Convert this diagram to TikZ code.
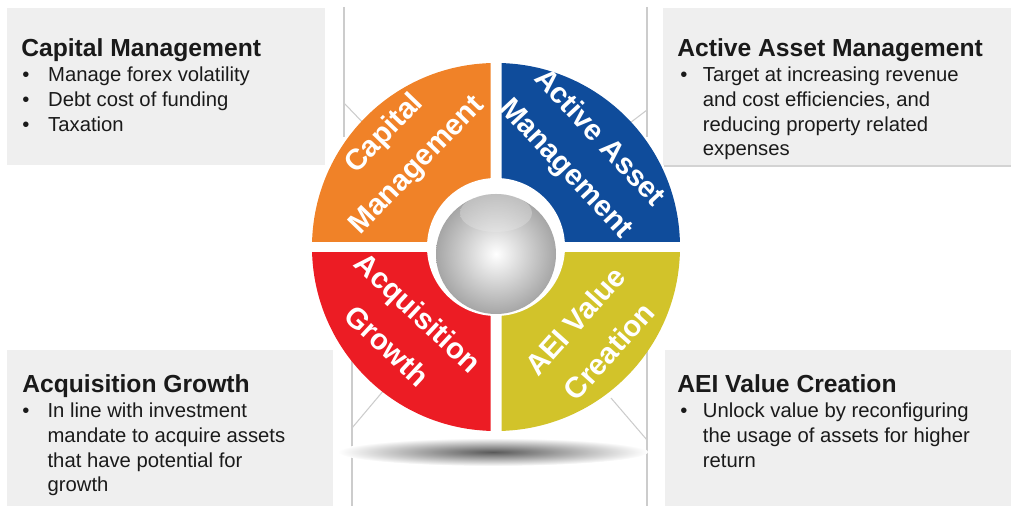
\documentclass[tikz,border=0pt]{standalone}
\usepackage{fontspec}
\setmainfont{Liberation Sans}
\usetikzlibrary{shadows}

\definecolor{caporange}{HTML}{F08228}
\definecolor{assetblue}{HTML}{0F4C9B}
\definecolor{acqred}{HTML}{EC1C24}
\definecolor{aeiyellow}{HTML}{D2C32A}
\definecolor{boxgray}{HTML}{EFEFEF}
\definecolor{textdark}{HTML}{1A1A1A}

\begin{document}
\begin{tikzpicture}[x=0.75pt, y=0.75pt,
    box/.style={fill=boxgray},
    frame/.style={draw=black!20, line width=0.8pt},
    title/.style={anchor=base west, inner sep=0, text=textdark, font=\fontsize{18.5}{22}\selectfont\bfseries},
    body/.style={anchor=base west, inner sep=0, text=textdark, font=\fontsize{15.2}{18.5}\selectfont},
    wheeltext/.style={text=white, align=center, inner sep=0, font=\fontsize{22}{34}\selectfont\bfseries}]
    \useasboundingbox (0,0) rectangle (1011,506);

    % Draw the four text panels
    \path[box] (7,341) rectangle (325,498);
    \path[box, drop shadow={shadow xshift=1pt, shadow yshift=-1.5pt, opacity=.35}] (663,341) rectangle (1011,498);
    \path[box] (7,0) rectangle (333,156);
    \path[box] (665,0) rectangle (1011,156);

    % Draw the thin frame lines behind the wheel
    \coordinate (tlup) at (344,499);
    \coordinate (tllow) at (344,369);
    \coordinate (tlbend) at (344,403);
    \coordinate (tlend) at (368,378);
    \coordinate (trup) at (647,499);
    \coordinate (trlow) at (647,369);
    \coordinate (trbend) at (647,396);
    \coordinate (trend) at (626,380);
    \coordinate (blup) at (352,156);
    \coordinate (bllow) at (352,0);
    \coordinate (blbend) at (352,78);
    \coordinate (blend) at (384,116);
    \coordinate (brup) at (647,156);
    \coordinate (brlow) at (647,0);
    \coordinate (brbend) at (647,66);
    \coordinate (brend) at (611,108);
    \draw[frame] (tlup) -- (tllow);
    \draw[frame] (tlbend) -- (tlend);
    \draw[frame] (trup) -- (trlow);
    \draw[frame] (trbend) -- (trend);
    \draw[frame] (blup) -- (bllow);
    \draw[frame] (blbend) -- (blend);
    \draw[frame] (brup) -- (brlow);
    \draw[frame] (brbend) -- (brend);

    % Draw the shadow under the wheel
    \shade[inner color=black!65, outer color=white] (493,54) ellipse (155 and 14);

    % Draw the four quadrants
    \coordinate (hub) at (496,259);
    \begin{scope}
      \clip (490.5,264.5) rectangle (300,460);
      \fill[caporange] (hub) circle (184);
    \end{scope}
    \begin{scope}
      \clip (501.5,264.5) rectangle (700,460);
      \fill[assetblue] (hub) circle (184);
    \end{scope}
    \begin{scope}
      \clip (490.5,253.5) rectangle (300,60);
      \fill[acqred] (hub) circle (184);
    \end{scope}
    \begin{scope}
      \clip (501.5,253.5) rectangle (700,60);
      \fill[aeiyellow] (hub) circle (184);
    \end{scope}

    % Draw the silver ball in the middle
    \fill[white] (hub) circle (69);
    \shade[inner color=white, outer color=black!35] (496,252) circle (60);
    \shade[top color=white, bottom color=black!8, opacity=.3] (496,293) ellipse (36 and 19);

    % Quadrant labels
    \node[wheeltext, rotate=46] (capwheel) at (401,356) {Capital\\Management};
    \node[wheeltext, rotate=-47] (assetwheel) at (582,352) {Active Asset\\Management};
    \node[wheeltext, rotate=-43] (acqwheel) at (403,177) {Acquisition\\Growth};
    \node[wheeltext, rotate=48] (aeiwheel) at (592,170) {AEI Value\\Creation};

    % Panel texts
    \node[title] (captitle) at (21,449) {Capital Management};
    \node[body] (capbody) at (22,424) {\begin{tabular}[t]{@{}p{19.5pt}@{}l@{}}
      \textbullet & Manage forex volatility\\
      \textbullet & Debt cost of funding\\
      \textbullet & Taxation
    \end{tabular}};

    \node[title] (assettitle) at (677,449) {Active Asset Management};
    \node[body] (assetbody) at (680,424) {\begin{tabular}[t]{@{}p{17pt}@{}l@{}}
      \textbullet & Target at increasing revenue\\
      & and cost efficiencies, and\\
      & reducing property related\\
      & expenses
    \end{tabular}};

    \node[title] (acqtitle) at (22,113) {Acquisition Growth};
    \node[body] (acqbody) at (22,88) {\begin{tabular}[t]{@{}p{19pt}@{}l@{}}
      \textbullet & In line with investment\\
      & mandate to acquire assets\\
      & that have potential for\\
      & growth
    \end{tabular}};

    \node[title] (aeititle) at (677,113) {AEI Value Creation};
    \node[body] (aeibody) at (680,88) {\begin{tabular}[t]{@{}p{17pt}@{}l@{}}
      \textbullet & Unlock value by reconfiguring\\
      & the usage of assets for higher\\
      & return
    \end{tabular}};
\end{tikzpicture}
\end{document}
